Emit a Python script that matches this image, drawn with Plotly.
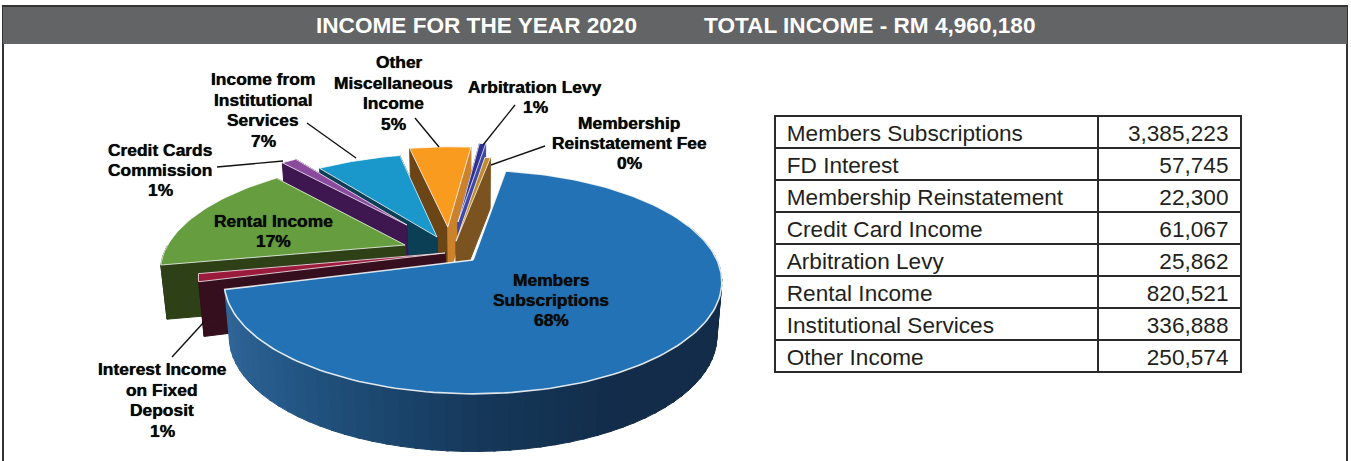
import math
import plotly.graph_objects as go

# ---- data -----------------------------------------------------------------
title_left = "INCOME FOR THE YEAR 2020"
title_right = "TOTAL INCOME - RM 4,960,180"
table_names = ["Members Subscriptions", "FD Interest", "Membership Reinstatement", "Credit Card Income",
               "Arbitration Levy", "Rental Income", "Institutional Services", "Other Income"]
table_values = [3385223, 57745, 22300, 61067, 25862, 820521, 336888, 250574]
pie_names = [["Members", "Subscriptions"], ["Interest Income", "on Fixed", "Deposit"], ["Membership", "Reinstatement Fee"],
             ["Credit Cards", "Commission"], ["Arbitration Levy"], ["Rental Income"],
             ["Income from", "Institutional", "Services"], ["Other", "Miscellaneous", "Income"]]

# ---- pie look ---------------------------------------------------------------
pie_order = [0, 1, 5, 3, 6, 7, 4, 2]          # clockwise from the start angle
paint_order = [7, 4, 2, 6, 3, 5, 1, 0]
start_angle = 9.2
cx, cy, R, K, P, D = 473, 260, 244, 107.6, 0.196, 54
explode = {0: (0, 0), 1: (-.116, .066), 5: (-.286, .143), 3: (-.289, .347),
           6: (-.154, .223), 7: (-.110, .326), 4: (-.066, .379), 2: (-.072, .180)}
top_col = {0: "#2272b5", 1: "#9b1b3d", 5: "#659d3f", 3: "#8a4b9f", 6: "#1a98cb", 7: "#f99b1f", 4: "#2e3192", 2: "#c08a2e"}
wall_l = {1: "#360f1e", 5: "#2d4016", 3: "#3e1650", 6: "#0a3f55", 7: "#6b4516", 4: "#2e3192", 2: "#7b5320"}
wall_r = {1: "#360f1e", 5: "#2d4016", 3: "#3e1650", 6: "#0a3f55", 7: "#cb822a", 4: "#3f48a8", 2: "#7b5320"}
label_pos = {0: (551, 300), 1: (162, 400), 2: (629, 143), 3: (160, 170),
             4: (535, 97), 5: (273, 231), 6: (263, 110), 7: (393, 93)}
label_nudge = {(7, 0): 6}
leaders = [((307, 123), (356, 158)), ((415, 118), (439, 147)), ((515, 105), (483, 145)),
           ((545, 146), (491, 165)), ((217, 167), (283, 161)), ((204, 322), (172, 357))]
wall_stops = [(255, (0x33, 0x68, 0x9b)), (225, (0x26, 0x5a, 0x8a)), (200, (0x1c, 0x48, 0x70)),
              (180, (0x16, 0x38, 0x5a)), (150, (0x12, 0x2c, 0x49)), (60, (0x12, 0x2c, 0x49))]

FONT = "Liberation Sans"
LINE_STEP = 20.4
total = sum(table_values)


def top(u, v):
    f = 1 / (1 + P * v)
    return cx + R * u * f, cy - K * v * f


def bot(u, v):
    f = 1 / (1 + P * v)
    return cx + R * u * f * 0.98, cy - K * v * f + D * f ** 0.3


def rim(off, deg):
    a = math.radians(deg)
    return off[0] + math.sin(a), off[1] + math.cos(a)


def arc(a1, a2, n=None):
    n = n or max(2, int(abs(a2 - a1) / 1.5) + 2)
    return [a1 + (a2 - a1) * i / (n - 1) for i in range(n)]


def poly(points, fill, line=None, width=1.0):
    xs = [p[0] for p in points] + [points[0][0]]
    ys = [p[1] for p in points] + [points[0][1]]
    return go.Scatter(x=xs, y=ys, mode="lines", fill="toself", fillcolor=fill,
                      line=dict(color=line or fill, width=width), hoverinfo="skip", showlegend=False)


def wall_colour(deg):
    for (a0, c0), (a1, c1) in zip(wall_stops, wall_stops[1:]):
        if a1 <= deg <= a0:
            t = (a0 - deg) / (a0 - a1)
            return "rgb(%d,%d,%d)" % tuple(c0[i] + (c1[i] - c0[i]) * t for i in range(3))
    return "rgb(18,44,73)"


# angular span of every slice, from the values
spans = {}
ang = start_angle
for i in pie_order:
    sweep = table_values[i] / total * 360
    spans[i] = (ang, ang + sweep)
    ang += sweep

traces = []
for i in paint_order:
    off = explode[i]
    a1, a2 = spans[i]
    apex = off
    if i == 0:
        # curved front wall, shaded band by band
        for a in arc(a2, 70, 62):
            b = max(a - (a2 - 70) / 61 - 0.5, 70)
            pts = [top(*rim(off, a)), top(*rim(off, b)), bot(*rim(off, b)), bot(*rim(off, a))]
            traces.append(poly(pts, wall_colour(a)))
    else:
        c1, c2 = rim(off, a1), rim(off, a2)
        # outer wall where the rim faces the viewer
        lo, hi = max(a1 % 360, 90), min(a2 % 360 if a2 % 360 > a1 % 360 else 360, 270)
        if hi > lo:
            ring = arc(lo, hi)
            pts = [top(*rim(off, a)) for a in ring] + [bot(*rim(off, a)) for a in reversed(ring)]
            traces.append(poly(pts, wall_l[i]))
        traces.append(poly([top(*apex), top(*c1), bot(*c1), bot(*apex)], wall_l[i]))
        traces.append(poly([top(*apex), top(*c2), bot(*c2), bot(*apex)], wall_r[i]))
    face = [top(*apex)] + [top(*rim(off, a)) for a in arc(a1, a2)]
    traces.append(poly(face, top_col[i], "rgba(255,255,255,0.85)", 1.6 if i == 0 else 0.9))

traces.append(go.Table(
    domain=dict(x=[775 / 1351, 1241 / 1351], y=[1 - 376 / 461, 1 - 100 / 461]),
    columnwidth=[323, 143],
    header=dict(values=[], height=0, line=dict(width=0), fill=dict(color="rgba(0,0,0,0)")),
    cells=dict(values=[table_names, [f"{v:,}" for v in table_values]],
               prefix=["\u200a", ""], suffix=["", "\u2009"],
               align=["left", "right"], height=32,
               line=dict(color="#2b2b2b", width=2.5), fill=dict(color="white"),
               font=dict(family=FONT, size=22.6, color="#231f20")),
))

fig = go.Figure(traces)

shapes = [
    dict(type="rect", x0=3, x1=1347, y0=6, y1=470, line=dict(color="#333333", width=2), fillcolor="white", layer="below"),
    dict(type="rect", x0=3, x1=1347, y0=7, y1=44, line=dict(width=0), fillcolor="#636466", layer="below"),
]
for (x0, y0), (x1, y1) in leaders:
    shapes.append(dict(type="line", x0=x0, y0=y0, x1=x1, y1=y1, line=dict(color="#111111", width=1.4)))

annotations = [
    dict(x=476, y=25, text=f"<b>{title_left}</b>", showarrow=False,
         font=dict(family=FONT, size=22.6, color="white")),
    dict(x=869, y=25, text=f"<b>{title_right}</b>", showarrow=False,
         font=dict(family=FONT, size=22.6, color="white")),
]
for i, name in enumerate(pie_names):
    pct = round(table_values[i] / total * 100)
    x, y = label_pos[i]
    lines = name + [f"{pct}%"]
    for n, text in enumerate(lines):
        annotations.append(dict(x=x + label_nudge.get((i, n), 0), y=y + (n - (len(lines) - 1) / 2) * LINE_STEP,
                                text=f"<b>{text}</b>", showarrow=False, align="center",
                                font=dict(family=FONT, size=17.4, color="#0a0a0a", shadow="0 0 0.8px #000")))

fig.update_layout(
    width=1351, height=461, margin=dict(l=0, r=0, t=0, b=0), showlegend=False,
    paper_bgcolor="white", plot_bgcolor="white",
    xaxis=dict(range=[0, 1351], visible=False, fixedrange=True),
    yaxis=dict(range=[461, 0], visible=False, fixedrange=True),
    shapes=shapes, annotations=annotations,
)
fig.write_html("out.html", post_script="document.body.style.margin='0';document.body.style.overflow='hidden';",
               config=dict(displayModeBar=False))
